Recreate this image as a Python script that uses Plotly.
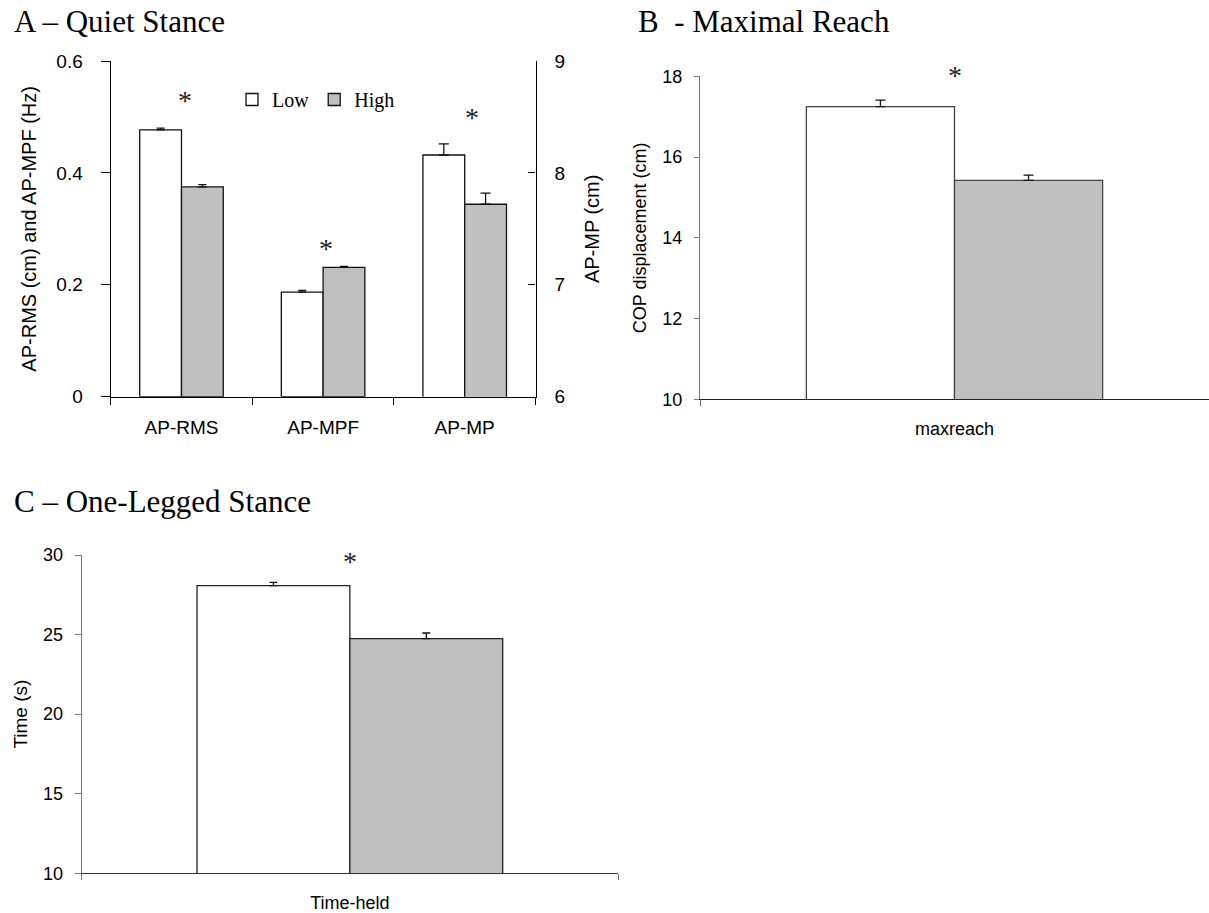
import plotly.graph_objects as go

W, H = 1209, 913

# ---------------- data ----------------
groups = ["Low", "High"]

# Panel A - Quiet Stance
a_categories = ["AP-RMS", "AP-MPF", "AP-MP"]
a_left_cats = ["AP-RMS", "AP-MPF"]          # left axis (cm / Hz)
a_right_cats = ["AP-MP"]                     # right axis (cm)
a_low_left = [0.477, 0.187]
a_low_left_err = [0.003, 0.003]
a_high_left = [0.375, 0.231]
a_high_left_err = [0.004, 0.002]
a_low_right = [8.16]
a_low_right_err = [0.10]
a_high_right = [7.72]
a_high_right_err = [0.10]
a_left_ticks = [0, 0.2, 0.4, 0.6]
a_right_ticks = [6, 7, 8, 9]
a_star_cats = ["AP-RMS", "AP-MPF", "AP-MP"]

# Panel B - Maximal Reach
b_categories = ["maxreach"]
b_low = [17.25]
b_low_err = [0.16]
b_high = [15.42]
b_high_err = [0.13]
b_ticks = [10, 12, 14, 16, 18]

# Panel C - One-Legged Stance
c_categories = ["Time-held"]
c_low = [28.08]
c_low_err = [0.20]
c_high = [24.74]
c_high_err = [0.36]
c_ticks = [10, 15, 20, 25, 30]

# ---------------- style ----------------
LOW_FILL = "white"
HIGH_FILL = "#c0c0c0"
SANS = "Liberation Sans, Arial, sans-serif"
SERIF = "Liberation Serif, Times New Roman, serif"

def px_x(p):
    return p / W

def px_y(p):
    return 1 - p / H

fig = go.Figure()

def bar(x, y, err, fill, name, xaxis, yaxis, offset, width, outline, show, capw):
    return go.Bar(
        x=x, y=y, name=name, legendgroup=name, showlegend=show,
        xaxis=xaxis, yaxis=yaxis, offset=offset, width=width,
        marker=dict(color=fill, line=dict(color=outline, width=1.3)),
        error_y=dict(type="data", array=err, arrayminus=[0] * len(err),
                     symmetric=False, color="#111", thickness=1.3, width=capw),
    )

BW_A = 0.295
fig.add_trace(bar(a_left_cats, a_low_left, a_low_left_err, LOW_FILL, "Low", "x", "y", -BW_A, BW_A, "#111", True, 4))
fig.add_trace(bar(a_left_cats, a_high_left, a_high_left_err, HIGH_FILL, "High", "x", "y", 0, BW_A, "#111", True, 4))
fig.add_trace(bar(a_right_cats, a_low_right, a_low_right_err, LOW_FILL, "Low", "x", "y2", -BW_A, BW_A, "#111", False, 5))
fig.add_trace(bar(a_right_cats, a_high_right, a_high_right_err, HIGH_FILL, "High", "x", "y2", 0, BW_A, "#111", False, 5))

BW_B = 0.291
fig.add_trace(bar(b_categories, b_low, b_low_err, LOW_FILL, "Low", "x3", "y3", -BW_B, BW_B, "#444", False, 5))
fig.add_trace(bar(b_categories, b_high, b_high_err, HIGH_FILL, "High", "x3", "y3", 0, BW_B, "#444", False, 5))

BW_C = 0.285
fig.add_trace(bar(c_categories, c_low, c_low_err, LOW_FILL, "Low", "x4", "y4", -BW_C, BW_C, "#222", False, 4))
fig.add_trace(bar(c_categories, c_high, c_high_err, HIGH_FILL, "High", "x4", "y4", 0, BW_C, "#222", False, 4))

tickfont_a = dict(family=SANS, size=19, color="black")
tickfont_bc = dict(family=SANS, size=18, color="black")

common_x = dict(type="category", showgrid=False, zeroline=False, showline=True, automargin=False,
                ticks="outside", tickson="boundaries", fixedrange=True)
common_y = dict(showgrid=False, zeroline=False, showline=True, ticks="outside", fixedrange=True,
                automargin=False)

fig.update_layout(
    template="none",
    width=W, height=H,
    margin=dict(l=0, r=0, t=0, b=0, pad=0, autoexpand=False),
    paper_bgcolor="white", plot_bgcolor="white",
    barmode="overlay",
    showlegend=True,
    legend=dict(orientation="h", x=px_x(232), y=px_y(80), xanchor="left", yanchor="top",
                font=dict(family=SERIF, size=20, color="black"),
                bgcolor="rgba(0,0,0,0)", itemclick=False, itemdoubleclick=False,
                traceorder="normal", tracegroupgap=0),
    # Panel A
    xaxis=dict(**common_x, domain=[px_x(110.7), px_x(535.5)], anchor="y",
               categoryorder="array", categoryarray=a_categories, range=[-0.5, 2.5],
               linecolor="black", linewidth=1.3, tickcolor="black", ticklen=7,
               tickfont=tickfont_a, ticklabelstandoff=13),
    yaxis=dict(**common_y, domain=[px_y(396.7), px_y(61)], anchor="x", range=[0, 0.6],
               tickvals=a_left_ticks, linecolor="black", linewidth=1.3, tickcolor="black",
               ticklen=9, tickfont=tickfont_a, ticklabelstandoff=14,
               title=dict(text="AP-RMS (cm) and AP-MPF (Hz)", font=dict(family=SANS, size=20, color="black"),
                          standoff=14)),
    yaxis2=dict(showgrid=False, zeroline=False, showline=True, fixedrange=True, automargin=False,
                overlaying="y", side="right", anchor="x", range=[6, 9], tickvals=a_right_ticks,
                ticks="inside", ticklen=7, linecolor="black", linewidth=1.3, tickcolor="black",
                tickfont=tickfont_a, ticklabelstandoff=14,
                title=dict(text="AP-MP (cm)", font=dict(family=SANS, size=20, color="black"), standoff=20)),
    # Panel B
    xaxis3=dict(**common_x, domain=[px_x(700), 1.0], anchor="y3", range=[-0.5, 0.5],
                linecolor="#222", linewidth=1.3, tickcolor="#666", ticklen=6,
                tickfont=tickfont_bc, ticklabelstandoff=13),
    yaxis3=dict(**common_y, domain=[px_y(399.3), px_y(76.3)], anchor="x3", range=[10, 18],
                tickvals=b_ticks, linecolor="#777", linewidth=1.3, tickcolor="#777", ticklen=5,
                tickfont=tickfont_bc, ticklabelstandoff=8,
                title=dict(text="COP displacement (cm)", font=dict(family=SANS, size=18, color="black"),
                           standoff=10)),
    # Panel C
    xaxis4=dict(**common_x, domain=[px_x(81.7), px_x(618)], anchor="y4", range=[-0.5, 0.5],
                linecolor="#333", linewidth=1.3, tickcolor="#777", ticklen=6,
                tickfont=tickfont_bc, ticklabelstandoff=13),
    yaxis4=dict(**common_y, domain=[px_y(873.3), px_y(555)], anchor="x4", range=[10, 30],
                tickvals=c_ticks, linecolor="#777", linewidth=1.3, tickcolor="#777", ticklen=6,
                tickfont=tickfont_bc, ticklabelstandoff=8,
                title=dict(text="Time (s)", font=dict(family=SANS, size=19, color="black"),
                           standoff=10)),
)

# Panel titles
titles = [("A \u2013 Quiet Stance", 11.7, 21.2),
          ("B  - Maximal Reach", 636, 21.2),
          ("C \u2013 One-Legged Stance", 11.7, 501.2)]
for text, x0, yc in titles:
    fig.add_annotation(text=text, xref="paper", yref="paper", x=px_x(x0), y=px_y(yc),
                       xanchor="left", yanchor="middle", showarrow=False,
                       font=dict(family=SERIF, size=31, color="black"))

# Significance asterisks (placed just above the taller bar of each pair)
star_font = dict(family=SERIF, size=28, color="#222")
a_star_y = [0.534, 0.271]
for cat, yv in zip(a_star_cats[:2], a_star_y):
    fig.add_annotation(text="*", x=cat, y=yv, xref="x", yref="y", showarrow=False,
                       font=star_font, yshift=-3, xshift=3)
fig.add_annotation(text="*", x=a_star_cats[2], y=8.52, xref="x", yref="y2", showarrow=False,
                   font=star_font, yshift=-3, xshift=7)
fig.add_annotation(text="*", x=b_categories[0], y=1.018, xref="x3", yref="y3 domain",
                   yanchor="middle", xanchor="center",
                   showarrow=False, font=star_font, yshift=-5)
fig.add_annotation(text="*", x=c_categories[0], y=29.9, xref="x4", yref="y4", showarrow=False,
                   font=star_font, yshift=-5)

fig.write_html("out.html")
